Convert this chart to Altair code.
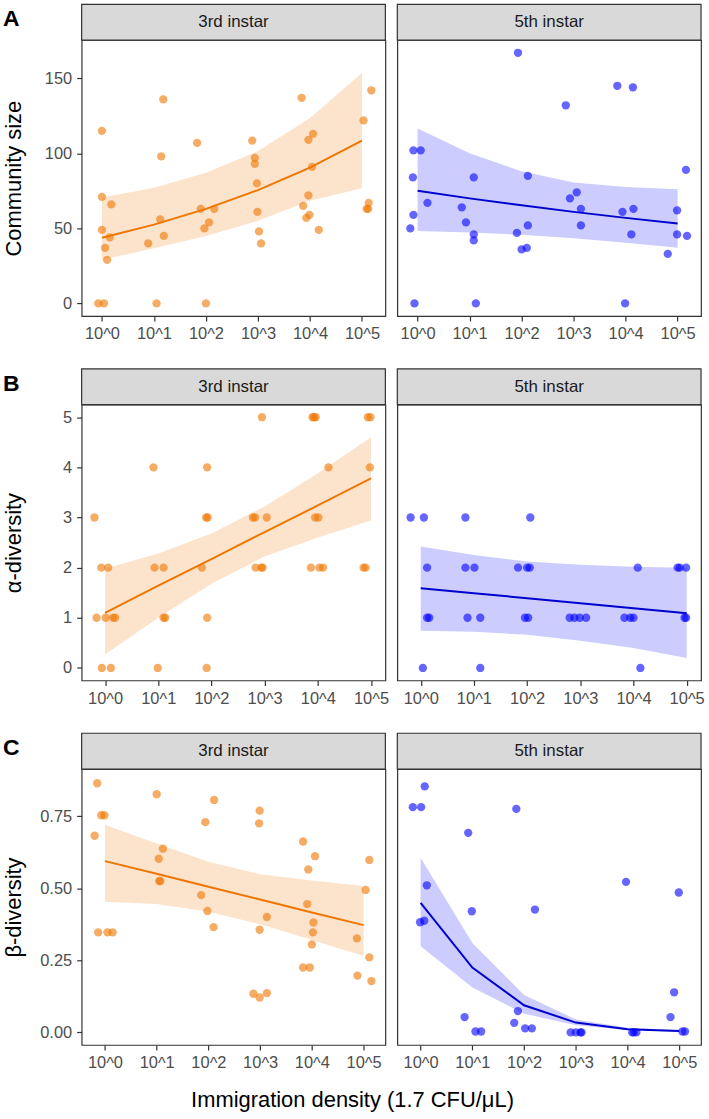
import altair as alt
import pandas as pd

FONT = "Liberation Sans"
W, H = 305, 277          # plot area of one panel
STRIP = 36               # height of the grey facet strip

ORANGE = "#EE7600"
BLUE_PT = "#0000FF"
BLUE_LN = "#0000CD"

# x positions are log10(immigration density), jittered around 0..5
FIT_X = [0, 1, 2, 3, 4, 5]

# ---- A: community size ----
a3_x = [-0.07, 0.04, 0.0, 0.0, 0.18, 0.0, 0.15, 0.06, 0.10, 0.89, 1.05, 1.18, 1.14, 1.12,
        1.19, 1.83, 1.90, 2.06, 2.16, 1.97, 2.00, 2.89, 2.94, 2.94, 2.98, 2.99, 3.02, 3.06,
        3.84, 3.97, 4.06, 4.04, 3.97, 3.87, 3.99, 3.93, 4.17, 5.18, 5.03, 5.13, 5.09, 5.12]
a3_y = [0, 0, 115, 71, 66, 49, 44, 37, 29, 40, 0, 136, 98, 56,
        45, 107, 63, 54, 63, 50, 0, 108.5, 97, 93, 80, 61, 48, 40,
        137, 109, 113, 91, 72, 65, 59, 57, 49, 142, 122, 67, 63, 63]
a3_fit = [43.7, 52.5, 63.0, 75.5, 90.5, 108.5]
a3_lo = [29.1, 36.8, 45.0, 55.0, 68.4, 76.8]
a3_hi = [70.6, 77.0, 87.0, 101.5, 123.5, 153.5]

a5_x = [1.93, 3.84, 4.14, 2.85, -0.08, 0.06, 5.16, -0.09, 1.08, 2.12, 3.06, 2.93, 0.19, 0.85,
        3.14, 4.15, 3.94, 4.99, -0.08, 0.93, 2.12, 3.14, -0.14, 1.08, 1.08, 1.91, 4.11, 4.99,
        5.18, 2.00, 2.10, 4.81, -0.06, 1.12, 3.99]
a5_y = [167, 145, 144, 132, 102, 102, 89, 84, 84, 85, 74, 70, 67, 64,
        63, 63, 61, 62, 59, 54, 52, 52, 50, 46, 42, 47, 46, 46,
        45, 36, 37, 33, 0, 0, 0]
a5_fit = [75.0, 70.0, 65.4, 61.0, 57.0, 53.2]
a5_lo = [48.3, 47.2, 45.8, 43.5, 40.5, 37.1]
a5_hi = [116.5, 100.0, 88.0, 80.5, 77.5, 76.0]

# ---- B: alpha diversity ----
b3_x = [2.95, 3.90, 3.93, 3.96, 4.94, 4.99,
        0.91, 1.92, 4.20, 4.98,
        -0.20, 1.90, 1.93, 2.78, 2.82, 3.04, 3.95, 4.01,
        -0.07, 0.06, 0.93, 1.10, 1.82, 2.83, 2.94, 2.96, 3.87, 4.03, 4.10, 4.86, 4.90,
        -0.16, 0.01, 0.15, 0.19, 1.10, 1.13, 1.92,
        -0.06, 0.11, 0.99, 1.91]
b3_y = [5, 5, 5, 5, 5, 5,
        4, 4, 4, 4,
        3, 3, 3, 3, 3, 3, 3, 3,
        2, 2, 2, 2, 2, 2, 2, 2, 2, 2, 2, 2, 2,
        1, 1, 1, 1, 1, 1, 1,
        0, 0, 0, 0]
b3_fit = [1.10, 1.64, 2.17, 2.71, 3.24, 3.78]
b3_lo = [0.27, 1.00, 1.68, 2.22, 2.60, 2.94]
b3_hi = [1.98, 2.28, 2.68, 3.22, 3.88, 4.60]

b5_x = [-0.19, 0.06, 0.84, 2.06,
        0.12, 0.84, 1.01, 1.83, 2.00, 2.05, 4.08, 4.83, 4.87, 4.99,
        0.12, 0.16, 0.88, 1.12, 1.96, 2.02, 2.80, 2.89, 2.99, 3.11, 3.83, 3.94, 4.00, 4.96, 4.99,
        0.04, 1.12, 4.13]
b5_y = [3, 3, 3, 3,
        2, 2, 2, 2, 2, 2, 2, 2, 2, 2,
        1, 1, 1, 1, 1, 1, 1, 1, 1, 1, 1, 1, 1, 1, 1,
        0, 0, 0]
b5_fit = [1.59, 1.49, 1.39, 1.29, 1.19, 1.09]
b5_lo = [0.74, 0.72, 0.66, 0.54, 0.40, 0.20]
b5_hi = [2.42, 2.25, 2.12, 2.06, 2.02, 2.00]

# ---- C: beta diversity ----
c3_x = [-0.15, -0.20, -0.07, -0.01, -0.13, 0.05, 0.15,
        1.00, 1.04, 1.12, 1.05, 1.07,
        2.11, 1.94, 1.86, 1.98, 2.10,
        2.99, 2.98, 2.99, 3.13, 2.87, 2.99, 3.13,
        3.83, 4.06, 3.93, 3.91, 4.03, 4.02, 4.00, 3.83, 3.96,
        5.11, 5.04, 4.87, 5.11, 4.88, 5.15]
c3_y = [0.864, 0.682, 0.753, 0.753, 0.347, 0.347, 0.347,
        0.826, 0.602, 0.637, 0.525, 0.525,
        0.806, 0.729, 0.476, 0.421, 0.365,
        0.769, 0.725, 0.356, 0.400, 0.134, 0.121, 0.136,
        0.662, 0.611, 0.565, 0.445, 0.381, 0.347, 0.305, 0.225, 0.225,
        0.598, 0.494, 0.326, 0.260, 0.197, 0.178]
c3_fit = [0.594, 0.550, 0.505, 0.461, 0.416, 0.372]
c3_lo = [0.453, 0.445, 0.418, 0.375, 0.320, 0.265]
c3_hi = [0.720, 0.655, 0.592, 0.548, 0.527, 0.508]

c5_x = [0.08, -0.15, 0.01, 1.85, 0.92, 3.97, 0.12, 4.99, 0.99, 2.21, -0.01, 0.07,
        4.90, 1.88, 0.85, 4.83, 1.81, 1.06, 1.17, 2.02, 2.15,
        2.90, 3.00, 3.09, 3.11, 4.09, 4.12, 4.17, 5.06, 5.11]
c5_y = [0.853, 0.781, 0.781, 0.775, 0.692, 0.522, 0.510, 0.485, 0.420, 0.426, 0.382, 0.387,
        0.139, 0.074, 0.053, 0.053, 0.033, 0.003, 0.003, 0.014, 0.014,
        0.0, 0.0, 0.0, 0.0, 0.0, 0.0, 0.0, 0.003, 0.003]
c5_fit = [0.449, 0.225, 0.094, 0.034, 0.011, 0.005]
c5_lo = [0.299, 0.156, 0.065, 0.025, 0.008, 0.002]
c5_hi = [0.606, 0.310, 0.130, 0.045, 0.016, 0.008]

ROWS = [
    dict(letter="A", title="Community size", xdom=[-0.39, 5.45], ydom=[-8.4, 175.4],
         yvals=[0, 50, 100, 150], yfmt="d", title_x=-61,
         left=(a3_x, a3_y, a3_fit, a3_lo, a3_hi), right=(a5_x, a5_y, a5_fit, a5_lo, a5_hi)),
    dict(letter="B", title="α-diversity", xdom=[-0.44, 5.27], ydom=[-0.25, 5.25],
         yvals=[0, 1, 2, 3, 4, 5], yfmt="d", title_x=-61,
         left=(b3_x, b3_y, b3_fit, b3_lo, b3_hi), right=(b5_x, b5_y, b5_fit, b5_lo, b5_hi)),
    dict(letter="C", title="β-diversity", xdom=[-0.45, 5.42], ydom=[-0.0435, 0.913],
         yvals=[0, 0.25, 0.5, 0.75], yfmt=".2f", title_x=-61,
         left=(c3_x, c3_y, c3_fit, c3_lo, c3_hi), right=(c5_x, c5_y, c5_fit, c5_lo, c5_hi)),
]


def panel(row, series, strip_label, pt_color, ln_color, is_left, is_bottom):
    px, py, fit, lo, hi = series
    pts = pd.DataFrame({"x": px, "y": py})
    fitdf = pd.DataFrame({"x": FIT_X, "y": fit, "lo": lo, "hi": hi})

    xscale = alt.Scale(domain=row["xdom"], nice=False, zero=False)
    yscale = alt.Scale(domain=row["ydom"], nice=False, zero=False)
    xaxis = alt.Axis(values=[0, 1, 2, 3, 4, 5], labelExpr="'10^' + datum.value", title=None)
    if is_left:
        yaxis = alt.Axis(values=row["yvals"], format=row["yfmt"], title=row["title"],
                         titleX=row["title_x"], titleY=H / 2, titleAngle=-90,
                         titleAlign="center", titleBaseline="alphabetic")
    else:
        yaxis = None

    band = alt.Chart(fitdf).mark_area(color=pt_color, opacity=0.2).encode(
        x=alt.X("x:Q", scale=xscale, axis=xaxis),
        y=alt.Y("lo:Q", scale=yscale, axis=yaxis),
        y2="hi:Q",
    )
    line = alt.Chart(fitdf).mark_line(color=ln_color, strokeWidth=2).encode(
        x=alt.X("x:Q", scale=xscale),
        y=alt.Y("y:Q", scale=yscale),
    )
    dots = alt.Chart(pts).mark_circle(color=pt_color, opacity=0.6, size=70).encode(
        x=alt.X("x:Q", scale=xscale),
        y=alt.Y("y:Q", scale=yscale),
    )

    lab = pd.DataFrame({"label": [strip_label]})
    strip = alt.Chart(lab).mark_rect(fill="#D9D9D9", stroke="#333333", strokeWidth=1.2).encode(
        x=alt.value(0), x2=alt.value(W), y=alt.value(-STRIP), y2=alt.value(0)
    )
    strip_txt = alt.Chart(lab).mark_text(
        font=FONT, fontSize=17, color="#1A1A1A", baseline="middle", align="center"
    ).encode(x=alt.value(W / 2), y=alt.value(-STRIP / 2), text="label:N")

    layers = [band, line, dots, strip, strip_txt]

    if is_left:
        letter = alt.Chart(pd.DataFrame({"t": [row["letter"]]})).mark_text(
            font=FONT, fontSize=23, fontWeight="bold", color="black",
            align="left", baseline="alphabetic"
        ).encode(x=alt.value(-79), y=alt.value(-14), text="t:N")
        layers.append(letter)
        if is_bottom:
            xt = alt.Chart(pd.DataFrame({"t": ["Immigration density (1.7 CFU/μL)"]})).mark_text(
                font=FONT, fontSize=22, color="black", align="center", baseline="alphabetic"
            ).encode(x=alt.value(272), y=alt.value(H + 62), text="t:N")
            layers.append(xt)

    return alt.layer(*layers).properties(width=W, height=H)


panels = []
for i, row in enumerate(ROWS):
    bottom = i == len(ROWS) - 1
    panels.append(panel(row, row["left"], "3rd instar", ORANGE, ORANGE, True, bottom))
    panels.append(panel(row, row["right"], "5th instar", BLUE_PT, BLUE_LN, False, bottom))

# a 2-column grid placed by plot areas only: spacing runs plot edge to plot edge
chart = alt.concat(
    *panels, columns=2, spacing={"row": 89, "column": 12}, bounds="flush"
).properties(
    padding={"left": 2, "top": 0, "right": 4, "bottom": 0}
).configure_view(
    stroke="#333333", strokeWidth=1.2, fill="white"
).configure_axis(
    grid=False, domain=False,
    labelFont=FONT, labelFontSize=16.5, labelColor="#4D4D4D", labelPadding=5,
    tickColor="#333333", tickSize=5, tickWidth=1.2,
    titleFont=FONT, titleFontSize=22, titleColor="black", titleFontWeight="normal",
)

chart.save("out.html", embed_options={"renderer": "svg", "actions": False})
